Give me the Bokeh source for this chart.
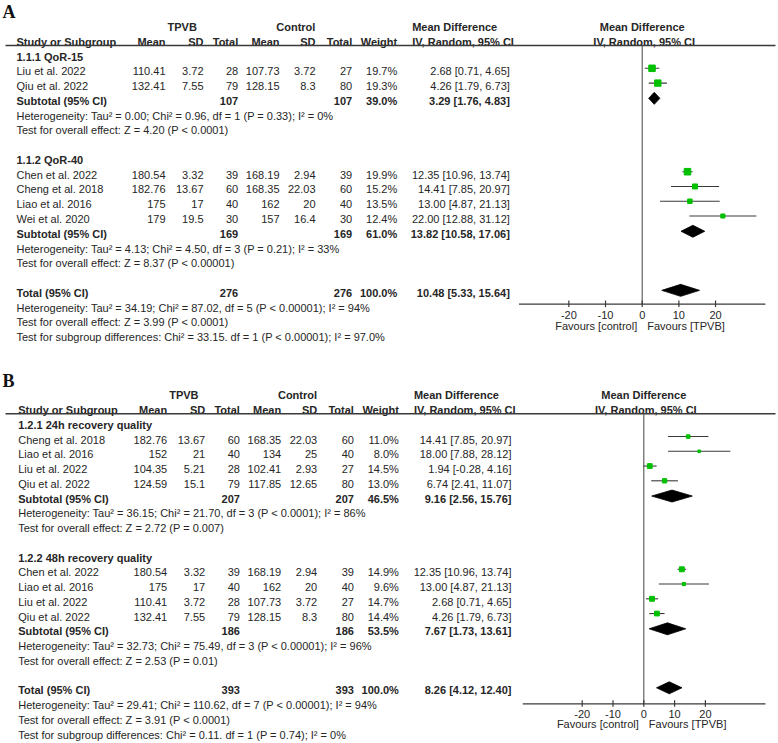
from bokeh.plotting import figure
from bokeh.models import ColumnDataSource, Range1d
from bokeh.core.properties import value
from bokeh.embed import file_html
from bokeh.resources import INLINE

# ---------------- data : panel A ----------------
A_STUDY = ["Liu et al. 2022", "Qiu et al. 2022", "Chen et al. 2022",
           "Cheng et al. 2018", "Liao et al. 2016", "Wei et al. 2020"]
A_GROUP = [0, 0, 1, 1, 1, 1]
A_T_MEAN = [110.41, 132.41, 180.54, 182.76, 175, 179]
A_T_SD = [3.72, 7.55, 3.32, 13.67, 17, 19.5]
A_T_N = [28, 79, 39, 60, 40, 30]
A_C_MEAN = [107.73, 128.15, 168.19, 168.35, 162, 157]
A_C_SD = [3.72, 8.3, 2.94, 22.03, 20, 16.4]
A_C_N = [27, 80, 39, 60, 40, 30]
A_WEIGHT = [19.7, 19.3, 19.9, 15.2, 13.5, 12.4]
A_MD = [2.68, 4.26, 12.35, 14.41, 13.00, 22.00]
A_LO = [0.71, 1.79, 10.96, 7.85, 4.87, 12.88]
A_HI = [4.65, 6.73, 13.74, 20.97, 21.13, 31.12]
A_SUB_LABEL = ["1.1.1 QoR-15", "1.1.2 QoR-40"]
A_SUB_N_T = [107, 169]
A_SUB_N_C = [107, 169]
A_SUB_WEIGHT = [39.0, 61.0]
A_SUB_MD = [3.29, 13.82]
A_SUB_LO = [1.76, 10.58]
A_SUB_HI = [4.83, 17.06]
A_SUB_HET = ["Heterogeneity: Tau\u00b2 = 0.00; Chi\u00b2 = 0.96, df = 1 (P = 0.33); I\u00b2 = 0%",
             "Heterogeneity: Tau\u00b2 = 4.13; Chi\u00b2 = 4.50, df = 3 (P = 0.21); I\u00b2 = 33%"]
A_SUB_Z = ["Test for overall effect: Z = 4.20 (P < 0.0001)",
           "Test for overall effect: Z = 8.37 (P < 0.00001)"]
A_TOT_N = [276, 276]
A_TOT_MD = [10.48, 5.33, 15.64]
A_TOT_TEXT = ["Heterogeneity: Tau\u00b2 = 34.19; Chi\u00b2 = 87.02, df = 5 (P < 0.00001); I\u00b2 = 94%",
              "Test for overall effect: Z = 3.99 (P < 0.0001)",
              "Test for subgroup differences: Chi\u00b2 = 33.15. df = 1 (P < 0.00001); I\u00b2 = 97.0%"]

# ---------------- data : panel B ----------------
B_STUDY = ["Cheng et al. 2018", "Liao et al. 2016", "Liu et al. 2022", "Qiu et al. 2022",
           "Chen et al. 2022", "Liao et al. 2016", "Liu et al. 2022", "Qiu et al. 2022"]
B_GROUP = [0, 0, 0, 0, 1, 1, 1, 1]
B_T_MEAN = [182.76, 152, 104.35, 124.59, 180.54, 175, 110.41, 132.41]
B_T_SD = [13.67, 21, 5.21, 15.1, 3.32, 17, 3.72, 7.55]
B_T_N = [60, 40, 28, 79, 39, 40, 28, 79]
B_C_MEAN = [168.35, 134, 102.41, 117.85, 168.19, 162, 107.73, 128.15]
B_C_SD = [22.03, 25, 2.93, 12.65, 2.94, 20, 3.72, 8.3]
B_C_N = [60, 40, 27, 80, 39, 40, 27, 80]
B_WEIGHT = [11.0, 8.0, 14.5, 13.0, 14.9, 9.6, 14.7, 14.4]
B_MD = [14.41, 18.00, 1.94, 6.74, 12.35, 13.00, 2.68, 4.26]
B_LO = [7.85, 7.88, -0.28, 2.41, 10.96, 4.87, 0.71, 1.79]
B_HI = [20.97, 28.12, 4.16, 11.07, 13.74, 21.13, 4.65, 6.73]
B_SUB_LABEL = ["1.2.1 24h recovery quality", "1.2.2 48h recovery quality"]
B_SUB_N_T = [207, 186]
B_SUB_N_C = [207, 186]
B_SUB_WEIGHT = [46.5, 53.5]
B_SUB_MD = [9.16, 7.67]
B_SUB_LO = [2.56, 1.73]
B_SUB_HI = [15.76, 13.61]
B_SUB_HET = ["Heterogeneity: Tau\u00b2 = 36.15; Chi\u00b2 = 21.70, df = 3 (P < 0.0001); I\u00b2 = 86%",
             "Heterogeneity: Tau\u00b2 = 32.73; Chi\u00b2 = 75.49, df = 3 (P < 0.00001); I\u00b2 = 96%"]
B_SUB_Z = ["Test for overall effect: Z = 2.72 (P = 0.007)",
           "Test for overall effect: Z = 2.53 (P = 0.01)"]
B_TOT_N = [393, 393]
B_TOT_MD = [8.26, 4.12, 12.40]
B_TOT_TEXT = ["Heterogeneity: Tau\u00b2 = 29.41; Chi\u00b2 = 110.62, df = 7 (P < 0.00001); I\u00b2 = 94%",
              "Test for overall effect: Z = 3.91 (P < 0.0001)",
              "Test for subgroup differences: Chi\u00b2 = 0.11. df = 1 (P = 0.74); I\u00b2 = 0%"]

COL_HEADERS = ["Mean", "SD", "Total", "Mean", "SD", "Total", "Weight"]
TICKS = [-20, -10, 0, 10, 20]
A_AXIS_EXTENT = [-33.6, 33.6]
B_AXIS_EXTENT = [-39.3, 39.5]

# ---------------- styling / layout ----------------
W, H = 778, 743
TEXT = "#262626"
LINE = "#3a3a3a"
GREEN = "#00c000"
SQ = 0.33
FONT = value("Liberation Sans")

p = figure(width=W, height=H, output_backend="svg", toolbar_location=None,
           title=None, x_range=Range1d(0, W), y_range=Range1d(H, 0),
           min_border=0, x_axis_location=None, y_axis_location=None)
p.xgrid.visible = False
p.ygrid.visible = False
p.outline_line_color = None
p.background_fill_color = "white"
p.border_fill_color = "white"


def eff_range(zero_px, ppu):
    return Range1d((0 - zero_px) / ppu, (W - zero_px) / ppu)


p.extra_x_ranges = {"A": eff_range(641.7, 3.667), "B": eff_range(643.3, 3.08)}


def put(xs, ys, texts, align="left", bold=False, size="11px", color=TEXT,
        range_name="default", x_offset=0, font=FONT):
    src = ColumnDataSource(dict(x=list(xs), y=list(ys), text=list(texts)))
    p.text(x="x", y="y", text="text", source=src, text_align=align,
           text_baseline="middle", text_font=font, text_font_size=value(size),
           text_font_style="bold" if bold else "normal", text_color=color,
           x_range_name=range_name, x_offset=x_offset)


def fmt(m, lo, hi):
    return f"{m:.2f} [{lo:.2f}, {hi:.2f}]"


def diamond(ms, los, his, ys, rng):
    p.patches(xs=[[lo, m, hi, m] for m, lo, hi in zip(ms, los, his)],
              ys=[[yy, yy - 6, yy, yy + 6] for yy in ys],
              x_range_name=rng, fill_color="black", line_color="black", line_width=0.8)


def draw_panel(D, L):
    rng = L["range"]
    dx = L["dx"]

    def y(i):
        return L["top"] + (i + 2) * L["step"]

    C = [c + dx for c in L["cols"]]
    sx = L["study_x"] + dx
    md_l = L["md_left"] + dx
    md_r = L["md_right"] + dx

    # panel letter
    put([2], [L["label_y"]], [L["name"]], "left", True, size="18px",
        font=value("Liberation Serif"), color="#111111")

    # headers
    put([L["tpvb_c"] + dx, L["ctrl_c"] + dx], [y(-2)] * 2, ["TPVB", "Control"], "center", True)
    put([md_l], [y(-2)], ["Mean Difference"], "left", True)
    put([md_l], [y(-1)], ["IV, Random, 95% CI"], "left", True)
    put([sx], [y(-1)], ["Study or Subgroup"], "left", True)
    put(C, [y(-1)] * 7, COL_HEADERS, "right", True)
    put([0], [y(-2)], ["Mean Difference"], "center", True, range_name=rng)
    put([0], [y(-1)], ["IV, Random, 95% CI"], "center", True, range_name=rng, x_offset=2)
    hl_y = y(-1) + 3.7
    p.segment(x0=[5], x1=[775], y0=[hl_y], y1=[hl_y], line_color=LINE, line_width=1.4)

    # row layout
    i = 0
    st_k, st_y, sub_y, grp_y, note_y, note_t = [], [], [], [], [], []
    for g, label in enumerate(D["sub_label"]):
        grp_y.append(y(i)); i += 1
        for k, gg in enumerate(D["group"]):
            if gg == g:
                st_k.append(k); st_y.append(y(i)); i += 1
        sub_y.append(y(i)); i += 1
        note_y += [y(i), y(i + 1)]
        note_t += [D["sub_het"][g], D["sub_z"][g]]
        i += 3
    tot_y = y(i)
    note_y += [y(i + 1), y(i + 2), y(i + 3)]
    note_t += D["tot_text"]

    n = len(st_k)
    put([sx] * len(grp_y), grp_y, D["sub_label"], "left", True)
    put([sx] * n, st_y, [D["study"][k] for k in st_k])
    cols = [D["t_mean"], D["t_sd"], D["t_n"], D["c_mean"], D["c_sd"], D["c_n"]]
    for c, arr in zip(C[:6], cols):
        put([c] * n, st_y, [str(arr[k]) for k in st_k], "right")
    put([C[6]] * n, st_y, [f"{D['weight'][k]:.1f}%" for k in st_k], "right")
    put([md_r] * n, st_y, [fmt(D["md"][k], D["lo"][k], D["hi"][k]) for k in st_k], "right")

    ns = len(sub_y)
    put([sx] * ns, sub_y, ["Subtotal (95% CI)"] * ns, "left", True)
    put([C[2]] * ns, sub_y, [str(v) for v in D["sub_nt"]], "right", True)
    put([C[5]] * ns, sub_y, [str(v) for v in D["sub_nc"]], "right", True)
    put([C[6]] * ns, sub_y, [f"{w:.1f}%" for w in D["sub_w"]], "right", True)
    put([md_r] * ns, sub_y, [fmt(m, lo, hi) for m, lo, hi in
                             zip(D["sub_md"], D["sub_lo"], D["sub_hi"])], "right", True)

    put([sx] * len(note_y), note_y, note_t, "left")

    put([sx], [tot_y], ["Total (95% CI)"], "left", True)
    put([C[2], C[5]], [tot_y] * 2, [str(v) for v in D["tot_n"]], "right", True)
    put([C[6]], [tot_y], ["100.0%"], "right", True)
    put([md_r], [tot_y], [fmt(*D["tot_md"])], "right", True)

    # forest marks
    my = [yy - 3 for yy in st_y]
    p.segment(x0=[D["lo"][k] for k in st_k], x1=[D["hi"][k] for k in st_k], y0=my, y1=my,
              x_range_name=rng, line_color=LINE, line_width=1.1)
    p.scatter(x=[D["md"][k] for k in st_k], y=my, size=[D["weight"][k] * SQ for k in st_k],
              marker="square", color=GREEN, x_range_name=rng)
    diamond(D["sub_md"], D["sub_lo"], D["sub_hi"], [yy - 2.5 for yy in sub_y], rng)
    diamond([D["tot_md"][0]], [D["tot_md"][1]], [D["tot_md"][2]], [tot_y - 2.5], rng)

    # axis
    ay = tot_y + L["axis_dy"]
    ext = L["extent"]
    p.segment(x0=[0], x1=[0], y0=[hl_y], y1=[ay], x_range_name=rng, line_color="#555555", line_width=1.1)
    p.segment(x0=[ext[0]], x1=[ext[1]], y0=[ay], y1=[ay], x_range_name=rng, line_color=LINE, line_width=1.2)
    p.segment(x0=TICKS, x1=TICKS, y0=[ay - 3.5] * len(TICKS), y1=[ay + 3] * len(TICKS),
              x_range_name=rng, line_color=LINE, line_width=1.2)
    put(TICKS, [ay + L["tick_dy"]] * len(TICKS), [str(t) for t in TICKS], "center", range_name=rng)
    put([0], [ay + L["fav_dy"]], ["Favours [control]"], "right", range_name=rng, x_offset=-5)
    put([0], [ay + L["fav_dy"]], ["Favours [TPVB]"], "left", range_name=rng, x_offset=5)


DA = dict(study=A_STUDY, group=A_GROUP, t_mean=A_T_MEAN, t_sd=A_T_SD, t_n=A_T_N,
          c_mean=A_C_MEAN, c_sd=A_C_SD, c_n=A_C_N, weight=A_WEIGHT, md=A_MD, lo=A_LO, hi=A_HI,
          sub_label=A_SUB_LABEL, sub_nt=A_SUB_N_T, sub_nc=A_SUB_N_C, sub_w=A_SUB_WEIGHT,
          sub_md=A_SUB_MD, sub_lo=A_SUB_LO, sub_hi=A_SUB_HI, sub_het=A_SUB_HET, sub_z=A_SUB_Z,
          tot_n=A_TOT_N, tot_md=A_TOT_MD, tot_text=A_TOT_TEXT)
DB = dict(study=B_STUDY, group=B_GROUP, t_mean=B_T_MEAN, t_sd=B_T_SD, t_n=B_T_N,
          c_mean=B_C_MEAN, c_sd=B_C_SD, c_n=B_C_N, weight=B_WEIGHT, md=B_MD, lo=B_LO, hi=B_HI,
          sub_label=B_SUB_LABEL, sub_nt=B_SUB_N_T, sub_nc=B_SUB_N_C, sub_w=B_SUB_WEIGHT,
          sub_md=B_SUB_MD, sub_lo=B_SUB_LO, sub_hi=B_SUB_HI, sub_het=B_SUB_HET, sub_z=B_SUB_Z,
          tot_n=B_TOT_N, tot_md=B_TOT_MD, tot_text=B_TOT_TEXT)

COLS = [165, 203, 237.7, 279, 315, 351.7, 396.7]
LA = dict(name="A", range="A", top=26.5, step=14.77, dx=0, label_y=11, axis_dy=11.2,
          tick_dy=10.7, fav_dy=21.7,
          extent=A_AXIS_EXTENT, cols=COLS, study_x=16, md_left=411.7, md_right=509.3,
          tpvb_c=181.7, ctrl_c=295.3)
LB = dict(name="B", range="B", top=394.8, step=14.75, dx=1.7, label_y=380.5, axis_dy=13.5,
          tick_dy=10, fav_dy=20,
          extent=B_AXIS_EXTENT, cols=COLS, study_x=16, md_left=411.7, md_right=509.3,
          tpvb_c=181.7, ctrl_c=295.3)

draw_panel(DA, LA)
draw_panel(DB, LB)

open("out.html", "w").write(file_html(p, INLINE))
